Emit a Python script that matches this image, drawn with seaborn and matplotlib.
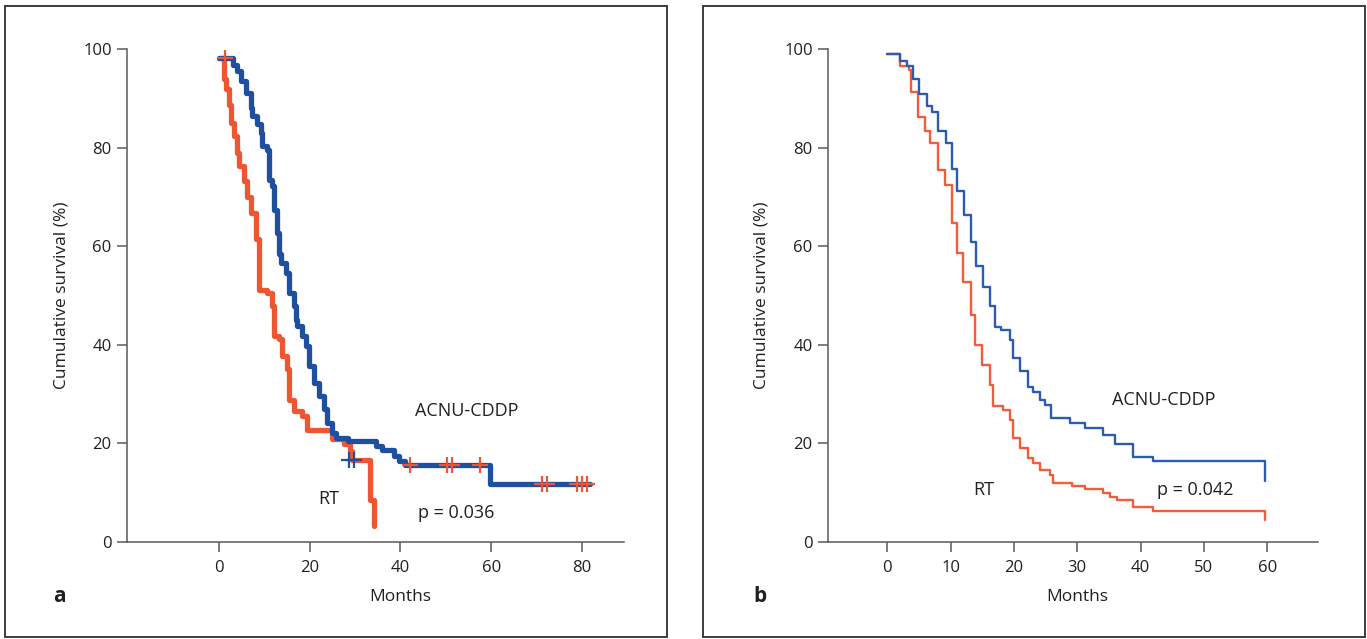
import matplotlib
matplotlib.use("Agg")
import matplotlib.pyplot as plt
import seaborn as sns
from matplotlib.patches import Rectangle

# ---------- DATA ----------
# panel a : Kaplan-Meier steps (time in months, survival in %)
a_acnu_t = [0, 3.2, 4.0, 5.0, 6.0, 7.0, 7.4, 8.4, 9.2, 9.5, 10.6, 11.0, 11.7, 12.1, 12.8,
            13.3, 13.6, 14.7, 15.4, 16.5, 17.0, 17.2, 18.3, 19.1, 19.8, 20.9, 22.0, 23.1,
            23.8, 24.9, 25.9, 28.5, 34.5, 36.0, 38.5, 39.6, 41.0, 59.7, 81.7]
a_acnu_s = [98.2, 96.8, 95.6, 93.5, 91.1, 88.0, 86.4, 84.7, 83.0, 80.3, 79.6, 73.5, 72.2,
            67.4, 62.7, 58.5, 56.6, 54.6, 50.5, 47.8, 45.0, 43.8, 41.7, 39.7, 35.7, 32.3,
            29.6, 26.9, 24.2, 22.1, 21.1, 20.5, 19.5, 18.6, 17.4, 16.4, 15.7, 11.7, 11.7]
a_rt_t = [0, 1.1, 1.5, 2.2, 2.8, 3.3, 4.0, 4.4, 5.5, 6.2, 7.0, 8.1, 8.8, 10.6, 11.7, 12.1,
          13.2, 13.9, 15.0, 15.4, 16.5, 18.3, 19.4, 24.9, 27.5, 28.9, 29.3, 33.3, 34.1]
a_rt_s = [98.2, 94.0, 91.8, 88.7, 85.0, 82.3, 79.0, 76.2, 73.2, 70.0, 66.8, 61.4, 51.2,
          50.5, 47.8, 41.7, 41.1, 37.7, 35.0, 28.9, 26.5, 25.5, 22.8, 20.8, 19.8, 18.4,
          16.7, 8.6, 3.2]
# censored patients (drawn in the other group's colour)
a_acnu_cens_t = [1.3, 42.1, 50.2, 51.3, 57.5, 71.1, 72.2, 78.8, 79.9, 81.0]
a_acnu_cens_s = [98.2, 15.7, 15.7, 15.7, 15.7, 11.7, 11.7, 11.7, 11.7, 11.7]
a_rt_cens_t = [28.6, 29.8]
a_rt_cens_s = [16.7, 16.7]

# panel b
b_acnu_t = [0, 2.0, 3.1, 4.0, 5.0, 6.2, 7.0, 8.0, 9.3, 10.2, 11.0, 12.1, 13.2, 14.0, 15.1,
            16.2, 17.0, 18.0, 19.4, 19.9, 20.9, 22.2, 23.0, 24.1, 24.9, 25.9, 28.8, 31.2,
            34.1, 35.9, 38.8, 42.0, 59.7]
b_acnu_s = [99.0, 97.6, 96.6, 93.9, 90.9, 88.5, 87.3, 83.3, 80.9, 75.6, 71.1, 66.4, 60.9,
            55.9, 51.8, 47.8, 43.7, 43.0, 41.0, 37.3, 34.6, 31.5, 30.5, 28.8, 27.8, 25.1,
            24.1, 23.1, 21.7, 19.9, 17.3, 16.5, 12.3]
b_rt_t = [0, 2.0, 3.4, 3.8, 4.9, 5.9, 6.8, 8.0, 9.1, 10.2, 11.0, 12.0, 13.3, 13.8, 15.0,
          16.2, 16.7, 18.3, 19.4, 19.9, 20.9, 22.2, 23.0, 24.1, 25.7, 26.2, 29.1, 31.2,
          34.1, 35.1, 36.2, 38.8, 42.0, 59.7]
b_rt_s = [99.0, 96.6, 95.8, 91.3, 86.3, 83.3, 80.9, 75.5, 72.5, 64.8, 58.6, 52.8, 46.1,
          40.0, 35.9, 31.9, 27.5, 26.8, 24.8, 21.1, 19.0, 17.0, 16.0, 14.6, 13.6, 11.9,
          11.3, 10.8, 9.9, 9.2, 8.6, 7.2, 6.2, 4.5]

y_ticks = [0, 20, 40, 60, 80, 100]
a_x_ticks = [0, 20, 40, 60, 80]
b_x_ticks = [0, 10, 20, 30, 40, 50, 60]
# -------------------------------------------------

BLUE = "#1f4f9f"
RED = "#ef5530"
BLUE_B = "#2c5cb0"
RED_B = "#f25b3c"
TXT = "#231f20"
AXC = "#5a5a5a"

sns.set_theme(style="ticks")
plt.rcParams["font.family"] = ["Open Sans", "DejaVu Sans"]
plt.rcParams["text.color"] = TXT

W, H = 1367, 639
fig = plt.figure(figsize=(W / 100, H / 100), dpi=100)


def rect(l, t, r, b):
    return [l / W, 1 - b / H, (r - l) / W, (b - t) / H]


# panel frames
for l, r in [(5, 667), (703, 1365)]:
    fig.patches.append(Rectangle((l / W, 1 - 637 / H), (r - l) / W, (637 - 6) / H,
                                 transform=fig.transFigure, fill=False,
                                 ec="#3c3c3c", lw=1.4))

ax_a = fig.add_axes(rect(127, 49, 624, 542))
ax_b = fig.add_axes(rect(828, 49, 1318, 542))

# panel a
sns.lineplot(x=a_rt_t, y=a_rt_s, drawstyle="steps-post", estimator=None, color=RED,
             linewidth=3.8, ax=ax_a)
sns.lineplot(x=a_acnu_t, y=a_acnu_s, drawstyle="steps-post", estimator=None, color=BLUE,
             linewidth=3.8, ax=ax_a)
sns.scatterplot(x=a_acnu_cens_t, y=a_acnu_cens_s, marker="+", s=140, color=RED,
                linewidth=1.6, ax=ax_a, zorder=5)
sns.scatterplot(x=a_rt_cens_t, y=a_rt_cens_s, marker="+", s=140, color=BLUE,
                linewidth=1.6, ax=ax_a, zorder=5)

# panel b
sns.lineplot(x=b_rt_t, y=b_rt_s, drawstyle="steps-post", estimator=None, color=RED_B,
             linewidth=1.7, ax=ax_b)
sns.lineplot(x=b_acnu_t, y=b_acnu_s, drawstyle="steps-post", estimator=None, color=BLUE_B,
             linewidth=1.7, ax=ax_b)

for ax, xlim, xt in [(ax_a, (-20.2, 89.2), a_x_ticks), (ax_b, (-9.35, 68.0), b_x_ticks)]:
    ax.set_xlim(*xlim)
    ax.set_ylim(0, 100)
    ax.set_xticks(xt)
    ax.set_yticks(y_ticks)
    ax.set_facecolor("none")
    sns.despine(ax=ax)
    for sp in ["left", "bottom"]:
        ax.spines[sp].set_color(AXC)
        ax.spines[sp].set_linewidth(1.1)
    ax.tick_params(axis="both", direction="out", length=7, width=1.1, color=AXC,
                   labelsize=12, labelcolor=TXT)
    ax.tick_params(axis="x", pad=6)
    ax.tick_params(axis="y", pad=4)
    ax.set_xlabel("Months", fontsize=12.5, color=TXT, va="top")
    ax.set_ylabel("Cumulative survival (%)", fontsize=12.5, color=TXT)
    # Months label sits under the middle of the tick range
    mid = (xt[0] + xt[-1]) / 2
    ax.xaxis.set_label_coords((mid - xlim[0]) / (xlim[1] - xlim[0]), -0.095)

ax_a.yaxis.set_label_coords(-0.116, 0.5)
ax_b.yaxis.set_label_coords(-0.12, 0.5)

# annotations
ax_a.text(54.5, 26.5, "ACNU-CDDP", fontsize=13, ha="center", va="center")
ax_a.text(24.2, 8.7, "RT", fontsize=13, ha="center", va="center")
ax_a.text(52.2, 5.9, "p = 0.036", fontsize=13, ha="center", va="center")
ax_b.text(43.7, 28.8, "ACNU-CDDP", fontsize=13, ha="center", va="center")
ax_b.text(15.3, 10.5, "RT", fontsize=13, ha="center", va="center")
ax_b.text(48.6, 10.5, "p = 0.042", fontsize=13, ha="center", va="center")

fig.text(59 / W, 1 - 597 / H, "a", fontsize=15, weight="bold", ha="center", va="center")
fig.text(760 / W, 1 - 596 / H, "b", fontsize=15, weight="bold", ha="center", va="center")

fig.savefig("out.png", dpi=100)
